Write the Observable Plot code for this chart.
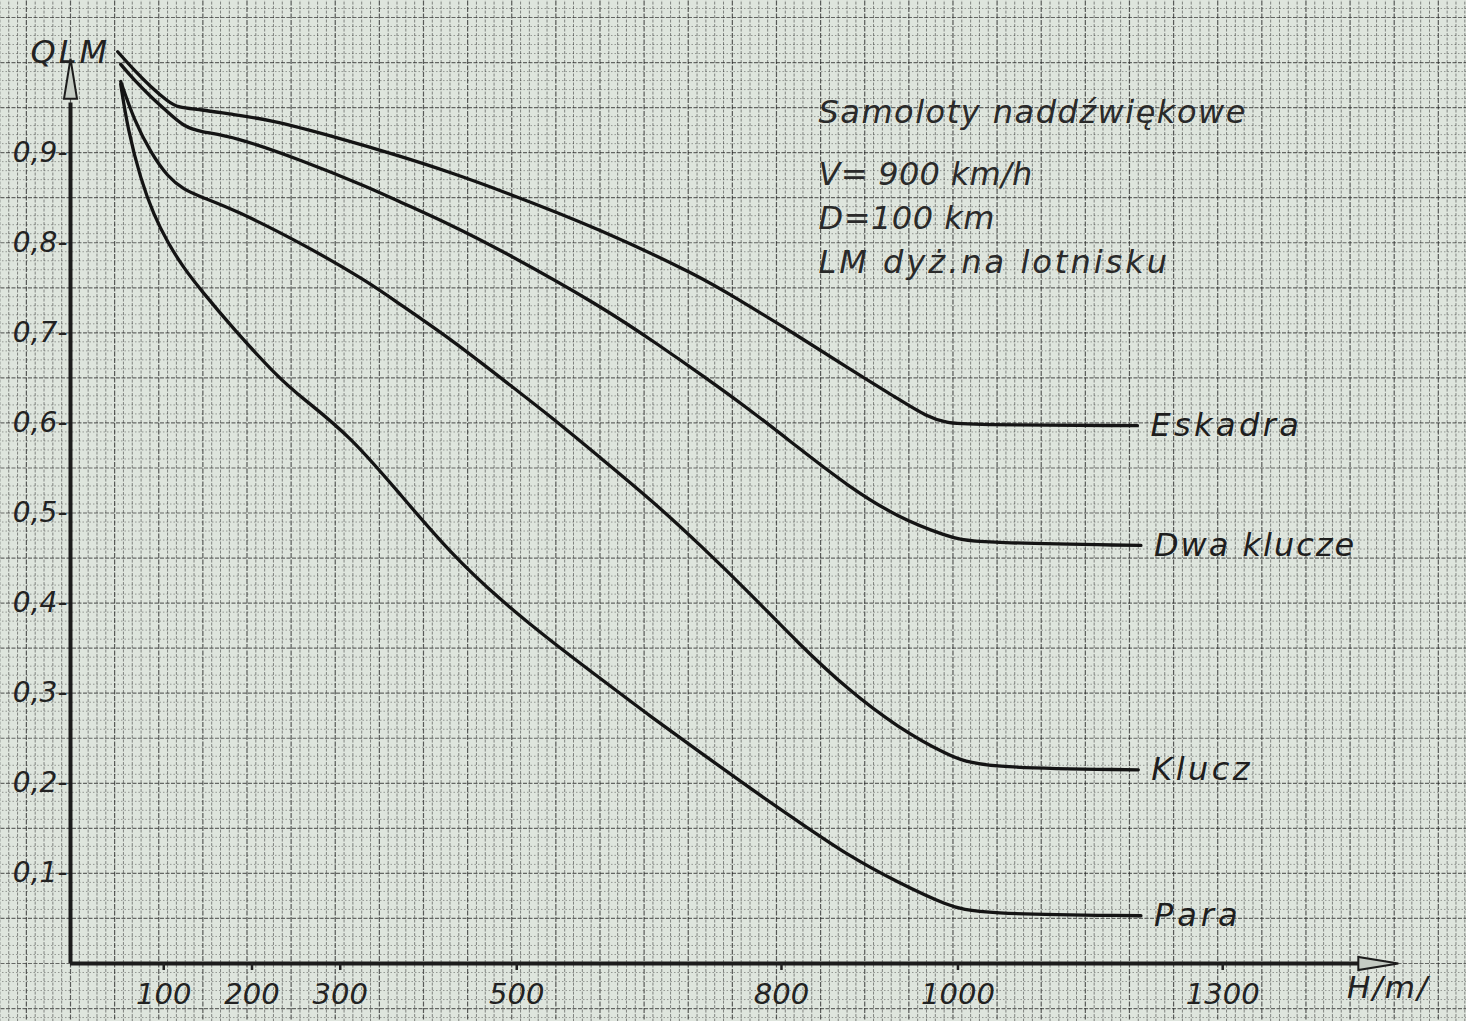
<!DOCTYPE html>
<html><head><meta charset="utf-8">
<script src="https://cdn.jsdelivr.net/npm/d3@7"></script>
<script src="https://cdn.jsdelivr.net/npm/@observablehq/plot@0.6"></script>
<style>
html,body{margin:0;padding:0;background:#dde4dc;}
#chart{width:1466px;height:1021px;overflow:hidden;}
</style></head><body><div id="chart"></div>
<script>
// ---- data ----
const seriesNames = ["Eskadra", "Dwa klucze", "Klucz", "Para"];

const hEskadra = [53.5, 71.7, 90.9, 110.2, 121.5, 147, 185, 223.5, 298.3, 374.2, 430.9, 487.5, 600.8, 714.2, 751.6, 824.1, 880.7, 937.4, 970, 994, 1013, 1209];
const qEskadra = [1.012, 0.992, 0.973, 0.957, 0.950, 0.948, 0.942, 0.937, 0.918, 0.896, 0.878, 0.858, 0.815, 0.762, 0.740, 0.697, 0.661, 0.627, 0.607, 0.600, 0.598, 0.597];

const hDwaKlucze = [56.9, 71.7, 90.9, 110.2, 128.3, 147.3, 185, 260.9, 336.8, 374.2, 430.9, 487.5, 600.8, 668.8, 714.2, 770.8, 824.1, 880.7, 937.4, 994, 1020, 1213];
const qDwaKlucze = [0.998, 0.981, 0.962, 0.945, 0.929, 0.923, 0.918, 0.892, 0.862, 0.845, 0.820, 0.792, 0.730, 0.685, 0.654, 0.614, 0.573, 0.530, 0.495, 0.474, 0.467, 0.464];

const hKlucz = [56.9, 71.7, 90.9, 110.2, 128.3, 147.3, 185, 260.9, 336.8, 374.2, 430.9, 487.5, 544.2, 600.8, 657.5, 714.2, 770.8, 824.1, 880.7, 937.4, 994, 1031, 1210];
const qKlucz = [0.979, 0.937, 0.900, 0.873, 0.859, 0.851, 0.837, 0.800, 0.757, 0.731, 0.693, 0.650, 0.607, 0.561, 0.515, 0.464, 0.410, 0.356, 0.304, 0.262, 0.231, 0.217, 0.215];

const hPara = [56.9, 64.9, 79.6, 94.3, 110.2, 128.3, 147.3, 185, 234.8, 260.9, 317.6, 374.2, 430.9, 487.5, 544.2, 600.8, 657.5, 714.2, 772, 824.1, 880.7, 937.4, 994, 1028, 1213];
const qPara = [0.976, 0.926, 0.870, 0.831, 0.800, 0.772, 0.748, 0.704, 0.651, 0.629, 0.585, 0.520, 0.455, 0.403, 0.358, 0.316, 0.274, 0.234, 0.193, 0.158, 0.120, 0.090, 0.064, 0.055, 0.053];

const xTicks = [100, 200, 300, 500, 800, 1000, 1300];
const yTicks = [0.1, 0.2, 0.3, 0.4, 0.5, 0.6, 0.7, 0.8, 0.9];

const yAxisLabel = "QLM";
const xAxisLabel = "H/m/";
const noteTitle = "Samoloty naddźwiękowe";
const noteLines = ["V= 900 km/h", "D=100 km", "LM dyż.na lotnisku"];

// ---- build table ----
const hs = [hEskadra, hDwaKlucze, hKlucz, hPara];
const qs = [qEskadra, qDwaKlucze, qKlucz, qPara];
const rows = seriesNames.flatMap((name, k) => hs[k].map((h, i) => ({series: name, h, q: qs[k][i]})));
const ends = seriesNames.map((name, k) => ({series: name, h: hs[k][hs[k].length - 1], q: qs[k][qs[k].length - 1]}));

// graph-paper grid (every 10 m / 0.01)
const gridX = d3.range(-80, 1600, 10);
const gridY = d3.range(-7, 109, 1).map(d => d / 100);
const gridXMinor = gridX.filter(d => d % 50 !== 0);
const gridXMajor = gridX.filter(d => d % 50 === 0);
const gridYMinor = gridY.filter(d => Math.round(d * 100) % 5 !== 0);
const gridYMajor = gridY.filter(d => Math.round(d * 100) % 5 === 0);

// narrow hollow arrowhead symbol
const narrowTri = {
  draw(context, size) {
    const r = Math.sqrt(size / Math.PI);
    context.moveTo(0, -2 * r);
    context.lineTo(0.65 * r, 2 * r);
    context.lineTo(-0.65 * r, 2 * r);
    context.closePath();
  }
};

const ink = "#1c1c1c";
const gridInk = "#242424";

const chart = Plot.plot({
  width: 1466,
  height: 1021,
  marginLeft: 70,
  marginRight: 37,
  marginTop: 17,
  marginBottom: 58,
  x: {domain: [0, 1540]},
  y: {domain: [0, 1.05]},
  style: {background: "#dee5dd", fontFamily: "'DejaVu Sans', sans-serif", fontStyle: "italic", color: "#222", overflow: "hidden"},
  marks: [
    Plot.ruleX(gridXMinor, {y1: -0.07, y2: 1.07, stroke: gridInk, strokeOpacity: 0.5, strokeWidth: 1, strokeDasharray: "3,1.5"}),
    Plot.ruleY(gridYMinor, {x1: -85, x2: 1600, stroke: gridInk, strokeOpacity: 0.4, strokeWidth: 1, strokeDasharray: "1.5,2"}),
    Plot.ruleX(gridXMajor, {y1: -0.07, y2: 1.07, stroke: gridInk, strokeOpacity: 0.72, strokeWidth: 1.2, strokeDasharray: "5,1.5"}),
    Plot.ruleY(gridYMajor, {x1: -85, x2: 1600, stroke: gridInk, strokeOpacity: 0.65, strokeWidth: 1.2, strokeDasharray: "4,1.5"}),
    // axes with arrows
    Plot.ruleY([0], {x1: 0, x2: 1468, stroke: ink, strokeWidth: 4}),
    Plot.ruleX([0], {y1: 0, y2: 0.955, stroke: ink, strokeWidth: 4}),
    Plot.dot([[0, 0.982]], {symbol: narrowTri, r: 10, fill: "#c4cbc3", stroke: ink, strokeWidth: 2}),
    Plot.dot([[1482, 0]], {symbol: narrowTri, r: 10, rotate: 90, fill: "#c4cbc3", stroke: ink, strokeWidth: 2}),
    Plot.axisY({ticks: yTicks, tickSize: 0, tickPadding: 3, fontSize: 28, label: null,
      tickFormat: d => String(d).replace(".", ",") + "-"}),
    Plot.axisX({ticks: xTicks, tickSize: 7, tickPadding: 13, strokeWidth: 2.5, fontSize: 29, label: null, dx: 5,
      tickFormat: d => String(d)}),
    // curves
    Plot.line(rows, {x: "h", y: "q", z: "series", curve: "basis", stroke: "#141414", strokeWidth: 3.3}),
    Plot.text(ends, {x: "h", y: "q", text: "series", dx: 13, textAnchor: "start", fontSize: 32, fill: "#1e1e1e"}),
    // labels
    Plot.text([yAxisLabel], {frameAnchor: "top-left", dx: -40, dy: 23, textAnchor: "start", fontSize: 32, fill: "#222"}),
    Plot.text([xAxisLabel], {frameAnchor: "bottom-right", dx: 0, dy: 34, textAnchor: "end", fontSize: 31, fill: "#222"}),
    Plot.text([noteTitle], {frameAnchor: "top-left", dx: 748, dy: 83, textAnchor: "start", fontSize: 32, fill: "#2a2a2a"}),
    Plot.text([noteLines[0]], {frameAnchor: "top-left", dx: 748, dy: 145, textAnchor: "start", fontSize: 32, fill: "#2a2a2a"}),
    Plot.text([noteLines[1]], {frameAnchor: "top-left", dx: 748, dy: 189, textAnchor: "start", fontSize: 32, fill: "#2a2a2a"}),
    Plot.text([noteLines[2]], {frameAnchor: "top-left", dx: 748, dy: 233, textAnchor: "start", fontSize: 32, fill: "#2a2a2a"})
  ]
});

document.getElementById("chart").appendChild(chart);
const spacing = new Map([
  ["Eskadra", "3.4px"], ["Dwa klucze", "2px"], ["Klucz", "3.4px"], ["Para", "4px"],
  [noteTitle, "1.5px"], [noteLines[0], "0.3px"], [noteLines[1], "0.5px"], [noteLines[2], "3px"],
  [yAxisLabel, "3px"], [xAxisLabel, "2px"]
]);
d3.select(chart).selectAll("text").each(function () {
  const ls = spacing.get(this.textContent);
  if (ls) this.setAttribute("letter-spacing", ls);
});
</script>
</body></html>
